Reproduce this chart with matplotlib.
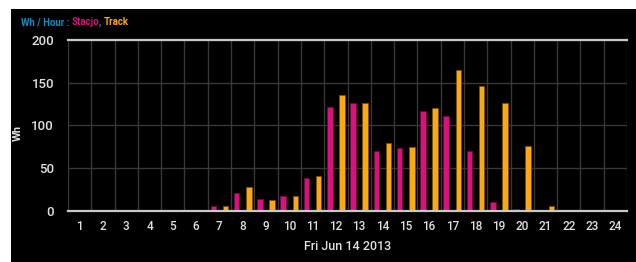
import matplotlib
matplotlib.use("Agg")
import matplotlib.pyplot as plt
import numpy as np
from matplotlib.patches import Rectangle

hours = list(range(1, 25))
stacjo = [0, 0, 0, 0, 0, 0, 5, 21, 14, 17, 38, 121, 126, 70, 73, 117, 111, 70, 10, 1.5, 0, 0, 0, 0]
track = [0, 0, 0, 0, 0, 0, 5, 27, 12, 17, 41, 135, 126, 79, 74, 120, 165, 146, 126, 76, 5, 0, 0, 0]
y_ticks = [0, 50, 100, 150, 200]
x_label = "Fri Jun 14 2013"
y_label = "Wh"

PINK = "#d8117c"
ORANGE = "#fca812"
BLUE = "#0e8ec4"
TEXT = "#e0e0e0"

plt.rcParams["font.family"] = ["Roboto", "DejaVu Sans"]

W, H = 636, 262
fig = plt.figure(figsize=(W / 100, H / 100), dpi=100, facecolor="white")
fig.patches.append(Rectangle((11 / W, 0), 1, (H - 9) / H, transform=fig.transFigure,
                             facecolor="black", edgecolor="none", zorder=-10))

ax = fig.add_axes([68 / W, 1 - 210.5 / H, (627 - 68) / W, (210.5 - 40) / H])
ax.set_facecolor("black")

x = np.array(hours)
ax.bar(x - 0.26, stacjo, width=0.24, color=PINK, edgecolor="#6e0a40", linewidth=0.6, zorder=3)
ax.bar(x + 0.26, track, width=0.24, color=ORANGE, edgecolor="#7a5206", linewidth=0.6, zorder=3)

ax.set_xlim(0.5, 24.5)
ax.set_ylim(0, 200)
ax.set_xticks(hours)
ax.set_xticklabels([str(h) for h in hours])
ax.set_xticks(np.arange(0.5, 25, 1), minor=True)
ax.set_yticks(y_ticks)

ax.grid(True, which="minor", axis="x", color="#383838", linewidth=1.0, zorder=1)
ax.grid(True, which="major", axis="y", color="#383838", linewidth=1.0, zorder=1)
ax.set_axisbelow(True)
ax.tick_params(which="both", length=0)
ax.tick_params(axis="x", colors=TEXT, labelsize=8.5, pad=7)
ax.tick_params(axis="y", colors=TEXT, labelsize=9.5, pad=10)
for lbl in ax.get_xticklabels() + ax.get_yticklabels():
    lbl.set_fontweight("medium")

for side in ["left", "right"]:
    ax.spines[side].set_visible(False)
for side in ["top", "bottom"]:
    ax.spines[side].set_color("#c8c8c8")
    ax.spines[side].set_linewidth(1.6)
    ax.spines[side].set_zorder(4)

ax.set_xlabel(x_label, color=TEXT, fontsize=9, fontweight="medium", labelpad=5)
fig.text(18 / W, 1 - 133 / H, y_label, color=TEXT, fontsize=8, fontweight="bold",
         rotation=90, ha="center", va="center")

# multi-coloured title
parts = [("Wh / Hour : ", BLUE), ("Stacjo", PINK), (", ", BLUE), ("Track", ORANGE)]
fig.canvas.draw()
renderer = fig.canvas.get_renderer()
xpos = 21 / W
for txt, col in parts:
    t = fig.text(xpos, 1 - 22 / H, txt, color=col, fontsize=6.9, fontweight="bold",
                 ha="left", va="center")
    bb = t.get_window_extent(renderer=renderer)
    xpos += bb.width / W

fig.savefig("out.png", dpi=100, facecolor="white")
